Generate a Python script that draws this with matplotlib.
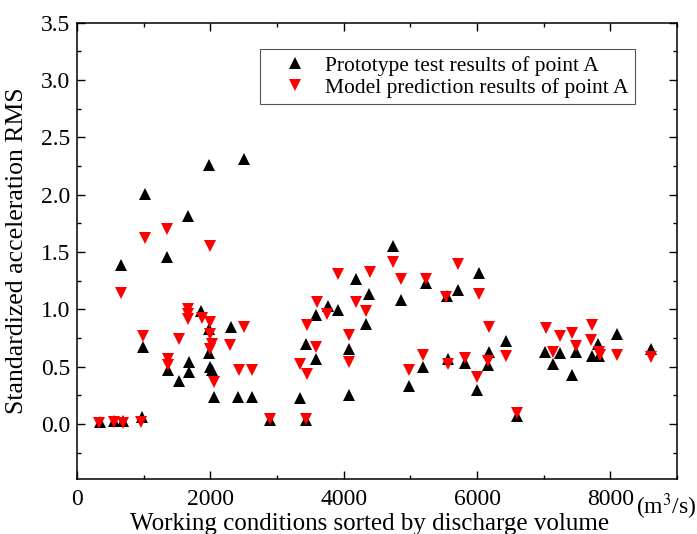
import matplotlib
matplotlib.use("Agg")
from matplotlib import pyplot as plt
from matplotlib.ticker import MultipleLocator

# prototype test results (black, up triangles)
proto_x = [345, 554, 694, 969, 664, 1014, 984, 1353, 1363, 1533, 1678, 1678, 1668,
           1978, 1853, 1978, 1978, 1998, 2028, 2052, 2312, 2412, 2627, 2502,
           2891, 3431, 3341, 3441, 3591, 3591, 3765, 3915, 4075, 4075, 4190, 4380,
           4340, 4739, 4864, 4979, 5188, 5238, 5548, 5713, 6027, 5563, 5813, 5998,
           6177, 6162, 6437, 6602, 7026, 7136, 7251, 7420, 7485, 7720, 7820, 7835,
           8100, 8609]
proto_y = [0.02, 0.03, 0.03, 0.06, 1.39, 2.01, 0.67, 1.455, 0.47, 0.377, 0.54, 0.455, 1.817,
           2.26, 0.985, 0.83, 0.615, 0.50, 0.47, 0.237, 0.846, 0.237, 0.237, 2.31,
           0.035, 0.035, 0.223, 0.696, 0.571, 0.948, 1.03, 0.997, 0.252, 0.658, 1.267, 1.136,
           0.87, 1.548, 1.078, 0.33, 0.493, 1.229, 1.12, 1.165, 1.316, 0.571, 0.533, 0.30,
           0.629, 0.513, 0.724, 0.07, 0.629, 0.519, 0.615, 0.426, 0.629, 0.591, 0.696, 0.59,
           0.789, 0.65]

# model prediction results (red, down triangles)
model_x = [330, 554, 694, 954, 654, 1019, 984, 1353, 1363, 1363, 1533, 1668, 1668, 1668,
           1868, 1988, 1988, 2028, 1988, 2052, 1988, 2302, 2502, 2427, 2627,
           2891, 3431, 3341, 3451, 3451, 3591, 3606, 3755, 3915, 4080, 4080, 4190, 4340,
           4390, 4739, 4864, 4979, 5188, 5238, 5538, 5563, 5713, 6027, 5813, 5998, 6177,
           6162, 6437, 6602, 7036, 7136, 7246, 7420, 7485, 7720, 7710, 7825, 7845, 8100, 8609]
model_y = [0.01, 0.02, 0.01, 0.02, 1.145, 1.623, 0.765, 1.70, 0.571, 0.513, 0.739, 1.0, 0.96, 0.913,
           0.928, 0.89, 0.789, 0.696, 0.658, 0.368, 1.548, 0.687, 0.846, 0.47, 0.47,
           0.04, 0.04, 0.519, 0.44, 0.86, 0.667, 1.064, 0.957, 1.31, 0.78, 0.542, 1.064, 0.985,
           1.325, 1.412, 1.267, 0.475, 0.60, 1.267, 1.11, 0.522, 1.397, 1.13, 0.577, 0.41, 0.846,
           0.548, 0.591, 0.098, 0.837, 0.629, 0.765, 0.797, 0.678, 0.867, 0.73, 0.629, 0.60, 0.60, 0.585]

yticks = [0.0, 0.5, 1.0, 1.5, 2.0, 2.5, 3.0, 3.5]
ytick_labels = ['0.0', '0.5', '1.0', '1.5', '2.0', '2.5', '3.0', '3.5']
xticks = [0, 2000, 4000, 6000, 8000]

plt.rcParams['font.family'] = ['Liberation Serif', 'DejaVu Serif']
plt.rcParams['mathtext.fontset'] = 'stix'

fig = plt.figure(figsize=(6.97, 5.34), dpi=100)
ax = fig.add_axes([0.1105, 0.103, 0.8608, 0.8545])

ax.plot(proto_x, proto_y, linestyle='none', marker='^', color='black', markersize=8,
        markeredgewidth=0, label='Prototype test results of point A')
ax.plot(model_x, model_y, linestyle='none', marker='v', color='#ff0000', markersize=8,
        markeredgewidth=0, label='Model prediction results of point A')

ax.set_xlim(0, 9000)
ax.set_xticks(xticks)
ax.xaxis.set_minor_locator(MultipleLocator(1000))
ax.set_yticks(yticks)
ax.set_yticklabels(ytick_labels)
ax.yaxis.set_minor_locator(MultipleLocator(0.25))
ax.set_ylim(-0.48, 3.5)

ax.tick_params(which='both', direction='in', top=True, right=True, labelsize=17, width=1)
ax.tick_params(which='major', length=5.5, pad=5)
ax.tick_params(axis='x', which='major', pad=7)
ax.tick_params(which='minor', length=3)
for sp in ax.spines.values():
    sp.set_linewidth(1.1)

ax.set_xlabel('Working conditions sorted by discharge volume', fontsize=18)
ax.xaxis.set_label_coords(0.488, -0.075)
ax.set_ylabel('Standardized acceleration RMS', fontsize=18.5)
ax.yaxis.set_label_coords(-0.082, 0.5)
ax.text(0.983, -0.027, '(m$^3$/s)', transform=ax.transAxes, fontsize=17,
        ha='center', va='top')

leg = ax.legend(loc='upper right', bbox_to_anchor=(0.93, 0.942), fontsize=15.5,
                fancybox=False, framealpha=1, edgecolor='#555555', borderpad=0.3,
                handlelength=2.6, handletextpad=0.1, labelspacing=0.1, borderaxespad=0)
leg.get_frame().set_linewidth(0.8)

plt.savefig('out.png', dpi=100)
